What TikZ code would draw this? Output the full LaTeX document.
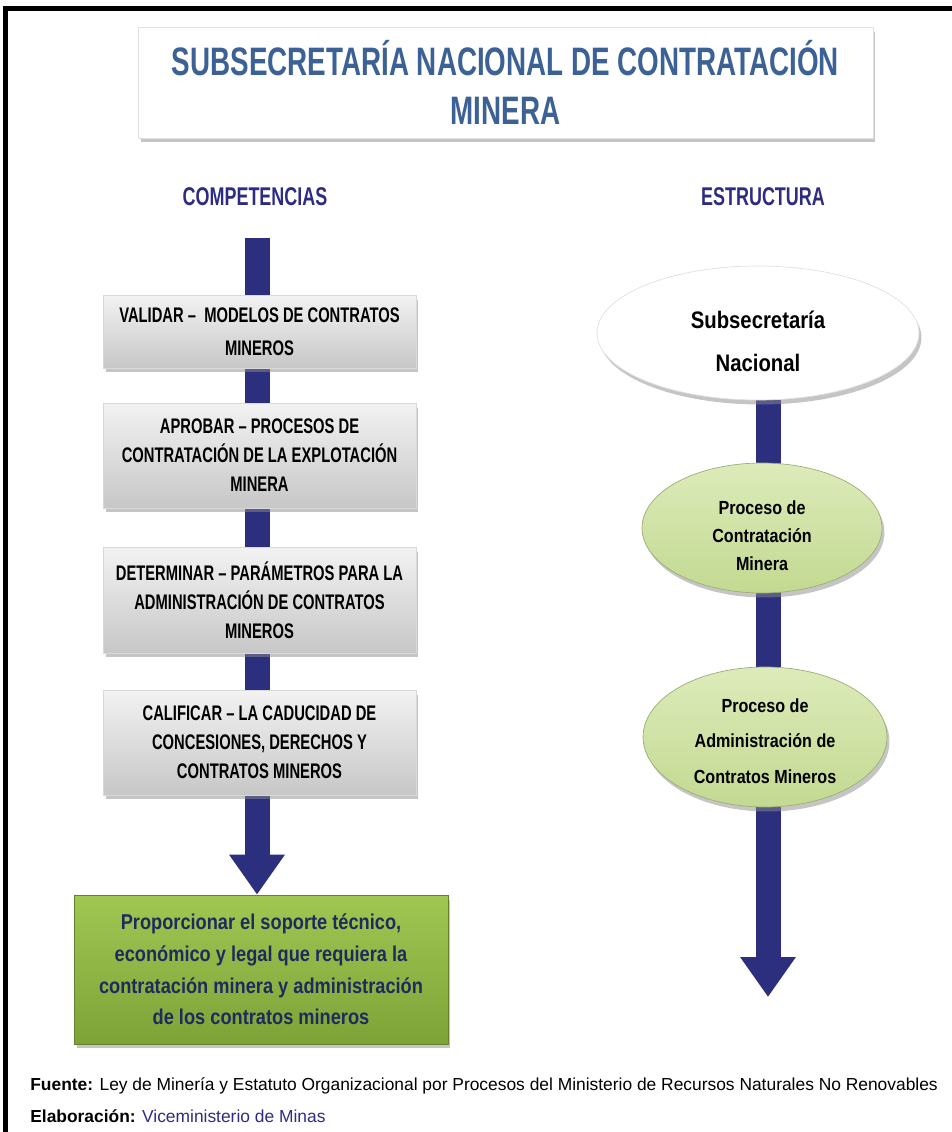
\documentclass[tikz,border=0pt]{standalone}
\usepackage{fontspec}
\setmainfont{Liberation Sans}
\newfontfamily\condfont[FakeStretch=0.7]{Liberation Sans}
\newfontfamily\midfont[FakeStretch=0.85]{Liberation Sans}
\usepackage{xcolor}
\usepackage{tikz}
\usetikzlibrary{positioning,arrows.meta,shapes.geometric,shadows,backgrounds}

\definecolor{barnavy}{HTML}{2B2F7E}
\definecolor{titleblue}{HTML}{3C6195}
\definecolor{headnavy}{HTML}{2E2C82}
\definecolor{greentop}{HTML}{A0C752}
\definecolor{greenbot}{HTML}{7DA338}
\definecolor{greentext}{HTML}{1E2B5E}
\definecolor{palegreentop}{HTML}{DDEBBA}
\definecolor{palegreenbot}{HTML}{C3D991}

\tikzset{
  softshadow/.style={drop shadow={shadow xshift=0.05cm, shadow yshift=-0.09cm, fill=black!45, opacity=0.5}},
  titlebox/.style={draw=black!12, fill=white, softshadow, minimum width=14.7cm, minimum height=2.22cm,
    align=center, text=titleblue, font=\condfont\bfseries\fontsize{22.6}{28.3}\selectfont},
  heading/.style={text=headnavy, font=\condfont\bfseries\fontsize{14.6}{16}\selectfont},
  compbox/.style={draw=black!15, top color=black!5, bottom color=black!22, softshadow,
    minimum width=6.26cm, inner sep=2pt, align=center, font=\condfont\bfseries\fontsize{12}{16.5}\selectfont},
  goalbox/.style={draw=greenbot!80!black, top color=greentop, bottom color=greenbot, softshadow,
    minimum width=7.48cm, minimum height=2.98cm, align=center, text=greentext,
    font=\midfont\bfseries\fontsize{12.2}{18}\selectfont},
  unitoval/.style={ellipse, inner sep=0pt, align=center, softshadow, font=\midfont\bfseries},
  mainoval/.style={unitoval, draw=black!12, fill=white},
  procoval/.style={unitoval, draw=palegreenbot!80!black, top color=palegreentop, bottom color=palegreenbot},
  bar/.style={barnavy, line width=0.5cm, -{Triangle[length=0.8cm, width=1.06cm]}}
}

\begin{document}
\begin{tikzpicture}[x=0.02cm, y=-0.02cm]
\useasboundingbox (0,0) rectangle (952,1132);

% Frame
\draw[line width=0.1cm] (5.5,1132) -- (5.5,8.5) -- (952,8.5);

% Title
\node[titlebox] (title) at (505.5,82.5) {SUBSECRETARÍA NACIONAL DE CONTRATACIÓN\\MINERA};

\node[heading] (comp) at (255,197) {COMPETENCIAS};
\node[heading] (estr) at (763,197) {ESTRUCTURA};

% Competencias
\node[compbox, minimum height=1.46cm, font=\condfont\bfseries\fontsize{12}{18.5}\selectfont] (validar) at (259.5,331.5) {VALIDAR –\ \ MODELOS DE CONTRATOS\\MINEROS};
\node[compbox, minimum height=2.1cm] (aprobar) at (259.5,455.5) {APROBAR – PROCESOS DE\\CONTRATACIÓN DE LA EXPLOTACIÓN\\MINERA};
\node[compbox, minimum height=2.12cm] (determinar) at (259.5,600) {DETERMINAR – PARÁMETROS PARA LA\\ADMINISTRACIÓN DE CONTRATOS\\MINEROS};
\node[compbox, minimum height=2.1cm] (calificar) at (259.5,742.5) {CALIFICAR – LA CADUCIDAD DE\\CONCESIONES, DERECHOS Y\\CONTRATOS MINEROS};

\node[goalbox] (soporte) at (261,969.5) {Proporcionar el soporte técnico,\\económico y legal que requiera la\\contratación minera y administración\\de los contratos mineros};

% Estructura
\node[mainoval, minimum width=6.44cm, minimum height=2.68cm,
  font=\midfont\bfseries\fontsize{13.6}{24.4}\selectfont] (subsec) at (758,333) {\rule{0pt}{19pt}Subsecretaría\\Nacional};
\node[procoval, minimum width=4.8cm, minimum height=2.6cm,
  font=\midfont\bfseries\fontsize{10.8}{15.9}\selectfont] (contrat) at (762,528) {\rule{0pt}{17pt}Proceso de\\Contratación\\Minera};
\node[procoval, minimum width=4.88cm, minimum height=2.8cm,
  font=\midfont\bfseries\fontsize{10.8}{20}\selectfont] (admin) at (765,737) {\rule{0pt}{12.5pt}Proceso de\\Administración de\\Contratos Mineros};

\coordinate (ltop) at (257,238);
\coordinate (rtip) at (768,997);

% Bars behind the boxes
\begin{scope}[on background layer]
  \draw[bar] (ltop) -- (ltop |- soporte.north);
  \draw[bar] (rtip |- subsec.south) -- (rtip);
\end{scope}

% Source
\node[anchor=base west, inner sep=0pt, font=\fontsize{9.9}{12}\selectfont] (fuente) at (30,1090)
  {\textbf{Fuente:} Ley de Minería y Estatuto Organizacional por Procesos del Ministerio de Recursos Naturales No Renovables};
\node[anchor=base west, inner sep=0pt, font=\fontsize{9.9}{12}\selectfont] (elab) at (30,1122)
  {\textbf{Elaboración:} \textcolor{headnavy}{Viceministerio de Minas}};
\end{tikzpicture}
\end{document}
